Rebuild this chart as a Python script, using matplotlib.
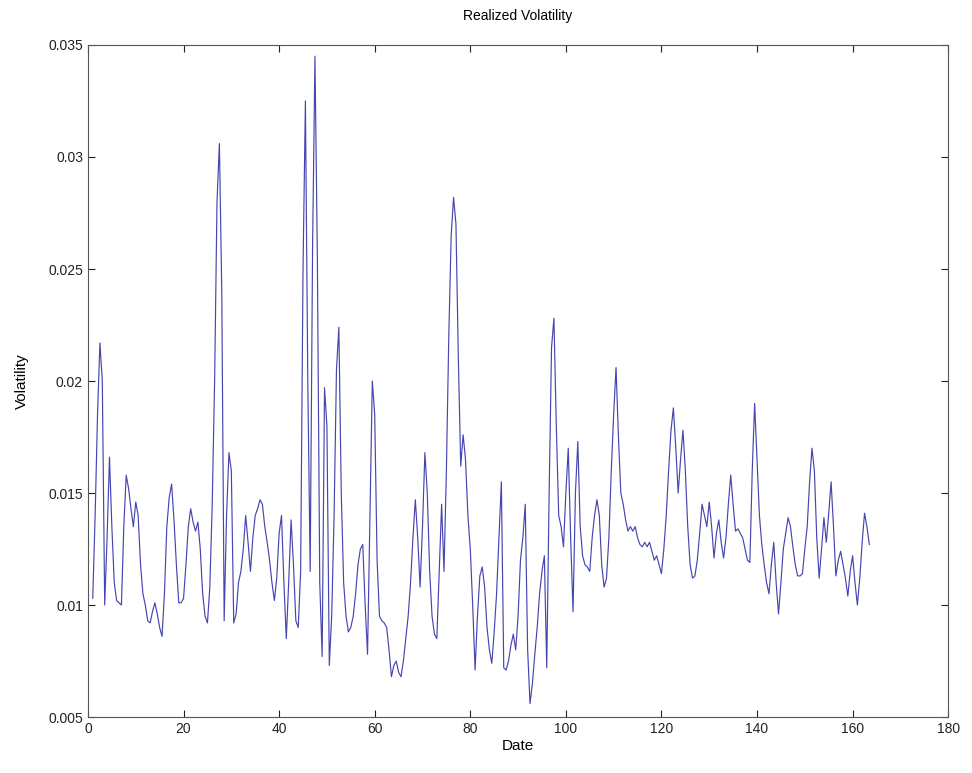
import numpy as np
import matplotlib
matplotlib.use("Agg")
import matplotlib.pyplot as plt

plt.rcParams['font.family'] = ['Liberation Sans', 'DejaVu Sans']

title = "Realized Volatility"
x_label = "Date"
y_label = "Volatility"

x_start = 1.0
x_step = 0.5
volatility = [
    0.0103, 0.0140, 0.0185, 0.0217, 0.0200, 0.0100, 0.0130, 0.0166, 0.0135, 0.0110,
    0.0102, 0.0101, 0.0100, 0.0135, 0.0158, 0.0152, 0.0143, 0.0135, 0.0146, 0.0140,
    0.0118, 0.0105, 0.0100, 0.0093, 0.0092, 0.0097, 0.0101, 0.0096, 0.0090, 0.0086,
    0.0105, 0.0135, 0.0148, 0.0154, 0.0138, 0.0118, 0.0101, 0.0101, 0.0103, 0.0118,
    0.0135, 0.0143, 0.0137, 0.0133, 0.0137, 0.0125, 0.0105, 0.0095, 0.0092, 0.0108,
    0.0145, 0.0200, 0.0280, 0.0306, 0.0240, 0.0093, 0.0140, 0.0168, 0.0160, 0.0092,
    0.0096, 0.0110, 0.0115, 0.0125, 0.0140, 0.0128, 0.0115, 0.0130, 0.0140, 0.0143,
    0.0147, 0.0145, 0.0135, 0.0128, 0.0120, 0.0110, 0.0102, 0.0112, 0.0132, 0.0140,
    0.0110, 0.0085, 0.0110, 0.0138, 0.0118, 0.0093, 0.0090, 0.0115, 0.0250, 0.0325,
    0.0200, 0.0115, 0.0260, 0.0345, 0.0255, 0.0110, 0.0077, 0.0197, 0.0180, 0.0073,
    0.0095, 0.0140, 0.0205, 0.0224, 0.0150, 0.0110, 0.0095, 0.0088, 0.0090, 0.0095,
    0.0105, 0.0118, 0.0125, 0.0127, 0.0100, 0.0078, 0.0140, 0.0200, 0.0185, 0.0120,
    0.0095, 0.0093, 0.0092, 0.0090, 0.0080, 0.0068, 0.0073, 0.0075, 0.0070, 0.0068,
    0.0075, 0.0085, 0.0095, 0.0110, 0.0130, 0.0147, 0.0130, 0.0108, 0.0135, 0.0168,
    0.0150, 0.0115, 0.0095, 0.0087, 0.0085, 0.0115, 0.0145, 0.0115, 0.0160, 0.0220,
    0.0265, 0.0282, 0.0270, 0.0210, 0.0162, 0.0176, 0.0165, 0.0140, 0.0125, 0.0100,
    0.0071, 0.0095, 0.0113, 0.0117, 0.0108, 0.0090, 0.0080, 0.0074, 0.0088, 0.0105,
    0.0130, 0.0155, 0.0072, 0.0071, 0.0075, 0.0082, 0.0087, 0.0080, 0.0095, 0.0120,
    0.0130, 0.0145, 0.0080, 0.0056, 0.0065, 0.0078, 0.0090, 0.0105, 0.0115, 0.0122,
    0.0072, 0.0150, 0.0215, 0.0228, 0.0180, 0.0140, 0.0135, 0.0126, 0.0150, 0.0170,
    0.0130, 0.0097, 0.0150, 0.0173, 0.0135, 0.0122, 0.0118, 0.0117, 0.0115, 0.0130,
    0.0140, 0.0147, 0.0140, 0.0118, 0.0108, 0.0112, 0.0130, 0.0160, 0.0185, 0.0206,
    0.0175, 0.0150, 0.0145, 0.0138, 0.0133, 0.0135, 0.0133, 0.0135, 0.0130, 0.0127,
    0.0126, 0.0128, 0.0126, 0.0128, 0.0124, 0.0120, 0.0122, 0.0118, 0.0114, 0.0125,
    0.0140, 0.0160, 0.0178, 0.0188, 0.0170, 0.0150, 0.0165, 0.0178, 0.0160, 0.0135,
    0.0118, 0.0112, 0.0113, 0.0120, 0.0132, 0.0145, 0.0140, 0.0135, 0.0146, 0.0135,
    0.0121, 0.0132, 0.0138, 0.0128, 0.0121, 0.0130, 0.0145, 0.0158, 0.0145, 0.0133,
    0.0134, 0.0132, 0.0130, 0.0125, 0.0120, 0.0119, 0.0160, 0.0190, 0.0165, 0.0140,
    0.0127, 0.0118, 0.0110, 0.0105, 0.0118, 0.0128, 0.0110, 0.0096, 0.0110, 0.0125,
    0.0132, 0.0139, 0.0135, 0.0126, 0.0118, 0.0113, 0.0113, 0.0114, 0.0125, 0.0135,
    0.0155, 0.0170, 0.0160, 0.0130, 0.0112, 0.0125, 0.0139, 0.0128, 0.0141, 0.0155,
    0.0135, 0.0113, 0.0120, 0.0124, 0.0118, 0.0112, 0.0104, 0.0115, 0.0122, 0.0110,
    0.0100, 0.0112, 0.0128, 0.0141, 0.0135, 0.0127,
]
dates = x_start + x_step * np.arange(len(volatility))

x_ticks = [0, 20, 40, 60, 80, 100, 120, 140, 160, 180]
y_ticks = [0.005, 0.01, 0.015, 0.02, 0.025, 0.03, 0.035]
y_tick_labels = ["0.005", "0.01", "0.015", "0.02", "0.025", "0.03", "0.035"]

fig = plt.figure(figsize=(9.72, 7.73), dpi=100)
ax = fig.add_axes([0.0905, 0.0724, 0.885, 0.8694])
ax.plot(dates, volatility, color="#4646b0", linewidth=0.85)

ax.set_xlim(0, 180)
ax.set_ylim(0.005, 0.035)
ax.set_xticks(x_ticks)
ax.set_xticklabels([str(t) for t in x_ticks])
ax.set_yticks(y_ticks)
ax.set_yticklabels(y_tick_labels)
ax.tick_params(direction="in", top=True, right=True, length=5, width=0.8,
               labelsize=10, colors="#222222")
for s in ax.spines.values():
    s.set_color("#555555")
    s.set_linewidth(0.8)

ax.set_title(title, fontsize=10, pad=18)
ax.set_xlabel(x_label, fontsize=11, labelpad=2)
ax.set_ylabel(y_label, fontsize=11, labelpad=14)

fig.savefig("out.png", dpi=100)
